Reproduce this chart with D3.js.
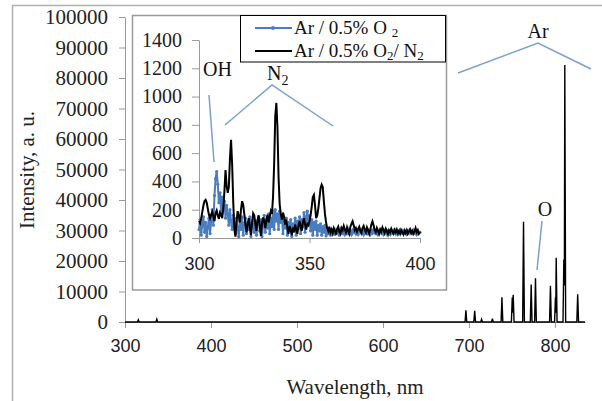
<!DOCTYPE html>
<html><head><meta charset="utf-8">
<script src="https://cdn.jsdelivr.net/npm/d3@7"></script>
<style>body{margin:0;background:#fff;} svg{display:block}</style>
</head><body>
<svg id="c" width="602" height="401"></svg>
<script>
// ---------- DATA ----------
const mainTicksX = [300, 400, 500, 600, 700, 800];
const mainTicksY = [0, 10000, 20000, 30000, 40000, 50000, 60000, 70000, 80000, 90000, 100000];
const insetTicksX = [300, 350, 400];
const insetTicksY = [0, 200, 400, 600, 800, 1000, 1200, 1400];

// full spectrum (Ar / 0.5% O2 / N2), wavelength nm and intensity a.u.
const mainWl = [300, 314.5, 315.5, 316.5, 336, 337, 338, 695.5, 696.5, 697.5, 705.7, 706.7, 707.7,
  713.7, 714.7, 715.7, 726.3, 727.3, 728.3, 737.4, 738.4, 739.4, 749.4, 750.4, 751, 751.5, 752.5,
  762.5, 763.5, 764.5, 771.4, 772.4, 773.4, 776.4, 777.4, 778.4, 793.8, 794.8, 795.8, 799.6, 800.6,
  801, 801.5, 802.5, 809.4, 810.4, 811, 811.5, 812.5, 825.5, 826.5, 827.5, 835];
const mainInt = [0, 0, 700, 0, 0, 950, 0, 0, 3800, 0, 0, 3700, 0,
  0, 900, 0, 0, 1100, 0, 0, 8100, 0, 0, 8000, 3000, 8900, 0,
  0, 32900, 0, 0, 12300, 0, 0, 14300, 0, 0, 11900, 0, 0, 8000,
  3000, 21100, 0, 0, 20500, 12000, 84300, 0, 0, 9100, 0, 0];

// inset: 300-400 nm sampled every 0.5 nm
const insetWl = d3.range(0, 201).map(i => 300 + i * 0.5);
const seriesO2 = [
  60,130,20,100,150,40,110,10,80,140,
  30,120,200,90,300,420,470,380,250,320,
  180,290,210,260,140,230,170,90,200,120,
  60,160,100,30,140,70,10,120,60,150,
  20,100,140,30,110,60,150,10,90,130,
  40,120,20,100,150,50,130,10,90,160,
  40,130,70,170,30,140,80,190,60,200,
  120,170,60,190,110,150,30,130,70,140,
  20,110,60,130,10,100,50,140,20,120,
  70,150,30,130,80,180,40,150,190,90,
  160,50,130,20,110,60,120,20,90,50,
  100,20,80,40,90,15,70,30,60,20,
  50,30,60,25,55,35,45,20,60,40,
  30,55,25,50,35,60,30,45,25,55,
  40,60,30,50,25,45,60,35,50,25,
  55,40,30,60,45,25,50,35,60,40,
  30,55,25,45,60,35,50,25,45,60,
  30,50,40,25,55,35,45,60,30,50,
  25,45,60,35,50,30,55,40,25,50,
  35,60,40,30,55,35,45,25,50,35,
  40];
const seriesO2N2 = [
  120,105,140,185,230,262,270,250,205,165,
  140,165,185,150,120,175,195,160,135,180,
  165,140,210,330,480,370,320,360,560,695,
  520,250,60,10,120,190,150,110,200,260,
  235,170,100,40,95,140,80,20,110,175,
  160,100,50,130,160,90,15,100,145,120,
  70,130,165,110,150,190,170,290,520,860,
  955,780,430,240,170,130,180,150,95,130,
  70,30,85,55,20,75,40,95,60,30,
  85,120,80,50,110,140,95,60,100,90,
  120,160,220,290,305,230,140,160,210,280,
  350,377,360,260,170,110,70,50,80,40,
  60,35,70,50,25,65,80,45,30,70,
  55,85,60,40,75,50,30,80,100,118,
  90,55,70,45,65,80,50,35,70,85,
  60,40,75,55,30,60,95,118,90,55,
  40,70,50,30,60,45,75,55,35,65,
  50,25,55,40,65,45,30,55,40,60,
  35,50,30,55,40,25,50,35,55,30,
  45,60,35,50,30,45,70,40,55,30,
  45];

// ---------- LAYOUT ----------
const svg = d3.select("#c");
const serif = "'Liberation Serif', 'Times New Roman', serif";
const sans = "'Liberation Sans', Arial, sans-serif";
const axisGray = "#9a9a9a";
const blue = "#4a7cc0";
const annBlue = "#7b9fd0";

// outer frame
svg.append("rect").attr("x", 12.5).attr("y", 5.5).attr("width", 600).attr("height", 400)
  .attr("fill", "#fff").attr("stroke", "#b0b0b0").attr("stroke-width", 1.5);

// main scales
const x = d3.scaleLinear().domain([300, 835]).range([125, 585]);
const y = d3.scaleLinear().domain([0, 100000]).range([322, 17]);

// main y axis
const gy = svg.append("g").attr("transform", "translate(125,0)")
  .call(d3.axisLeft(y).tickValues(mainTicksY).tickSize(6).tickSizeOuter(0).tickFormat(d3.format("d")).tickPadding(11));
gy.select(".domain").attr("stroke", axisGray);
gy.selectAll(".tick line").attr("stroke", axisGray);
gy.selectAll("text").attr("font-family", serif).attr("font-size", 21).attr("fill", "#222");

// main x axis
const gx = svg.append("g").attr("transform", "translate(0,322)")
  .call(d3.axisBottom(x).tickValues(mainTicksX).tickSize(6).tickSizeOuter(0).tickFormat(d3.format("d")).tickPadding(11));
gx.select(".domain").attr("stroke", axisGray);
gx.selectAll(".tick line").attr("stroke", axisGray);
gx.selectAll("text").attr("font-family", sans).attr("font-size", 18).attr("fill", "#222");

// main spectrum
const mainPts = mainWl.map((w, i) => [w, mainInt[i]]);
svg.append("path").datum(mainPts)
  .attr("d", d3.line().x(d => x(d[0])).y(d => y(d[1])))
  .attr("fill", "none").attr("stroke", "#000").attr("stroke-width", 1.4);

// axis titles
svg.append("text").attr("x", 355).attr("y", 394).attr("text-anchor", "middle")
  .attr("font-family", serif).attr("font-size", 21).attr("fill", "#222").text("Wavelength, nm");
svg.append("text").attr("transform", "translate(34,170) rotate(-90)").attr("text-anchor", "middle")
  .attr("font-family", serif).attr("font-size", 21).attr("fill", "#222").text("Intensity, a. u.");

// annotations main
svg.append("polyline").attr("points", "458,73 538,43 591,69").attr("fill", "none")
  .attr("stroke", annBlue).attr("stroke-width", 1.5);
svg.append("text").attr("x", 538).attr("y", 38).attr("text-anchor", "middle")
  .attr("font-family", serif).attr("font-size", 20).attr("fill", "#111").text("Ar");
svg.append("line").attr("x1", 542).attr("y1", 221).attr("x2", 537).attr("y2", 270)
  .attr("stroke", annBlue).attr("stroke-width", 1.5);
svg.append("text").attr("x", 545).attr("y", 216).attr("text-anchor", "middle")
  .attr("font-family", serif).attr("font-size", 20).attr("fill", "#111").text("O");

// ---------- INSET ----------
svg.append("rect").attr("x", 132.5).attr("y", 15.5).attr("width", 314).attr("height", 274.5)
  .attr("fill", "#fff").attr("stroke", "#9a9a9a").attr("stroke-width", 1.5);

const xi = d3.scaleLinear().domain([300, 400]).range([199, 420]);
const yi = d3.scaleLinear().domain([0, 1400]).range([238, 40]);

const giy = svg.append("g").attr("transform", "translate(199,0)")
  .call(d3.axisLeft(yi).tickValues(insetTicksY).tickSize(7).tickSizeOuter(0).tickFormat(d3.format("d")).tickPadding(10));
giy.select(".domain").attr("stroke", axisGray);
giy.selectAll(".tick line").attr("stroke", axisGray);
giy.selectAll("text").attr("font-family", serif).attr("font-size", 20).attr("fill", "#222");

const gix = svg.append("g").attr("transform", "translate(0,238)")
  .call(d3.axisBottom(xi).tickValues(insetTicksX).tickSize(5).tickSizeOuter(0).tickFormat(d3.format("d")).tickPadding(14));
gix.select(".domain").attr("stroke", axisGray);
gix.selectAll(".tick line").attr("stroke", axisGray);
gix.selectAll("text").attr("font-family", sans).attr("font-size", 18).attr("fill", "#222");

const lineI = d3.line().x(d => xi(d[0])).y(d => yi(d[1]));
const ptsO2 = insetWl.map((w, i) => [w, seriesO2[i]]);
const ptsO2N2 = insetWl.map((w, i) => [w, seriesO2N2[i]]);

svg.append("path").datum(ptsO2).attr("d", lineI).attr("fill", "none")
  .attr("stroke", blue).attr("stroke-width", 2);
svg.append("g").selectAll("circle").data(ptsO2).join("circle")
  .attr("cx", d => xi(d[0])).attr("cy", d => yi(d[1])).attr("r", 1.6).attr("fill", blue);
svg.append("path").datum(ptsO2N2).attr("d", lineI).attr("fill", "none")
  .attr("stroke", "#000").attr("stroke-width", 2);

// inset annotations
svg.append("line").attr("x1", 209).attr("y1", 95).attr("x2", 214).attr("y2", 162)
  .attr("stroke", annBlue).attr("stroke-width", 1.5);
svg.append("text").attr("x", 203).attr("y", 76)
  .attr("font-family", serif).attr("font-size", 20).attr("fill", "#111").text("OH");
svg.append("polyline").attr("points", "225,125 272,85 333,126").attr("fill", "none")
  .attr("stroke", annBlue).attr("stroke-width", 1.5);
const n2 = svg.append("text").attr("x", 267).attr("y", 80)
  .attr("font-family", serif).attr("font-size", 20).attr("fill", "#111");
n2.append("tspan").text("N");
n2.append("tspan").attr("font-size", 14).attr("dy", 5).text("2");

// legend
svg.append("rect").attr("x", 240.5).attr("y", 15.5).attr("width", 205).attr("height", 46.5)
  .attr("fill", "#fff").attr("stroke", "#000").attr("stroke-width", 1);
svg.append("line").attr("x1", 255).attr("x2", 292).attr("y1", 28).attr("y2", 28)
  .attr("stroke", blue).attr("stroke-width", 2);
svg.append("circle").attr("cx", 273).attr("cy", 28).attr("r", 2).attr("fill", blue);
svg.append("line").attr("x1", 255).attr("x2", 292).attr("y1", 51).attr("y2", 51)
  .attr("stroke", "#000").attr("stroke-width", 2);
const l1 = svg.append("text").attr("x", 294).attr("y", 34)
  .attr("font-family", serif).attr("font-size", 19).attr("fill", "#111");
l1.append("tspan").text("Ar / 0.5% O ");
l1.append("tspan").attr("font-size", 13).attr("dy", 3).text("2");
const l2 = svg.append("text").attr("x", 294).attr("y", 57)
  .attr("font-family", serif).attr("font-size", 19).attr("fill", "#111");
l2.append("tspan").text("Ar / 0.5% O");
l2.append("tspan").attr("font-size", 13).attr("dy", 3).text("2");
l2.append("tspan").attr("dy", -3).text("/ N");
l2.append("tspan").attr("font-size", 13).attr("dy", 3).text("2");
</script>
</body></html>
